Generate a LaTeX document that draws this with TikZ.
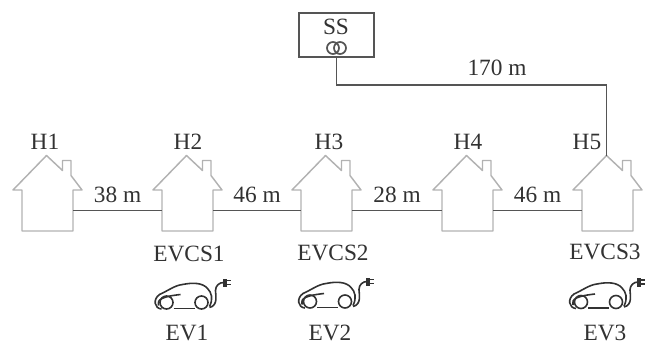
\documentclass[tikz,border=0pt]{standalone}
\usepackage{fontspec}
\setmainfont{Liberation Serif}
\usepackage{xcolor}
\definecolor{wiregray} {RGB}{ 85, 85, 85}
\definecolor{housegray}{RGB}{178,178,178}
\definecolor{textgray} {RGB}{ 50, 50, 50}
\tikzset{
  wire/.style      = {wiregray, line width=1.3pt},
  label text/.style= {textgray, inner sep=0pt, font=\fontsize{17.5}{20}\selectfont},
  ss box/.style    = {draw=wiregray, line width=1.6pt, minimum width=56pt, minimum height=33pt, inner sep=0pt},
  house wall/.style= {minimum width=38pt, minimum height=31pt, inner sep=0pt},
  car line/.style  = {textgray, line width=1.2pt, line join=round},
  house/.pic = {
    \node[house wall] (-wall) at (0,0) {};
    \coordinate (-apex) at (-1,-55);
    \draw[housegray, line width=1.1pt, line join=round]
      (-25.5,-20.5) -- (-25.5,20.5) -- (25.5,20.5) -- (25.5,-20.5) -- (34.5,-20.5)
      -- (23.5,-35) -- (23.5,-50) -- (15,-50) -- (15,-40) -- (-1,-55) -- (-34.5,-20.5) -- cycle;
  },
  ev car/.pic = {
    \draw[car line]
      (-5,6.5) .. controls (-12,6) and (-14,-3) .. (-7,-8)
      .. controls (2,-12) and (8,-17) .. (16,-18)
      .. controls (26,-20) and (36,-20) .. (41,-14)
      .. controls (45,-10) and (47,-4) .. (43,4);
    \draw[car line] (-8,3) .. controls (-10,-3) and (-4,-6) .. (14,-8);
    \draw[car line] (0,0) circle (6.5);
    \draw[car line] (35,0) circle (6.5);
    \draw[car line] (7,6) -- (28,6);
    % cable and plug
    \draw[car line]
      (43,5) .. controls (52,3) and (49,-8) .. (49,-12) .. controls (49,-17) and (53,-20) .. (57,-20);
    \fill[textgray] (56,-24) rectangle (60,-15.5);
    \draw[textgray, line width=1pt] (60,-22) -- (64,-22) (60,-18) -- (64,-18);
  },
}
\begin{document}
\begin{tikzpicture}[x=0.75pt, y=-0.75pt]
  \useasboundingbox (0,0) rectangle (651,343);

  % houses
  \pic (h1) at (47.5,210.5)  {house};
  \pic (h2) at (187.5,210.5) {house};
  \pic (h3) at (326.5,210.5) {house};
  \pic (h4) at (467.5,210.5) {house};
  \pic (h5) at (607.5,210.5) {house};

  % house labels
  \node[label text] (lh1) at (45,142)  {H1};
  \node[label text] (lh2) at (188,142) {H2};
  \node[label text] (lh3) at (329,142) {H3};
  \node[label text] (lh4) at (468,142) {H4};
  \node[label text] (lh5) at (587,142) {H5};

  % substation
  \node[ss box] (ss) at (336.5,35) {};
  \node[label text] (ssname) at (336,27) {SS};
  \draw[wire] (333,48) circle (6) (340,48) circle (6);

  % feeder
  \draw[wire] (h1-wall.east) -- node[label text, above=5pt] (d12) {38 m} (h2-wall.west);
  \draw[wire] (h2-wall.east) -- node[label text, above=5pt] (d23) {46 m} (h3-wall.west);
  \draw[wire] (h3-wall.east) -- node[label text, above=5pt] (d34) {28 m} (h4-wall.west);
  \draw[wire] (h4-wall.east) -- node[label text, above=5pt] (d45) {46 m} (h5-wall.west);
  \coordinate (bend) at (606.5,85);
  \draw[wire] (ss.south) |- (bend) -- (h5-apex);
  \node[label text] (d5s) at (497,68) {170 m};

  % charging stations
  \node[label text] (cs1) at (189,254) {EVCS1};
  \node[label text] (cs2) at (333,252.5) {EVCS2};
  \node[label text] (cs3) at (605,252) {EVCS3};

  % cars
  \pic at (166.5,302.5) {ev car};
  \pic at (310,301.5)   {ev car};
  \pic at (581,302)     {ev car};
  \node[label text] (ev1) at (187,332.5) {EV1};
  \node[label text] (ev2) at (330,332.5) {EV2};
  \node[label text] (ev3) at (605,332.5) {EV3};
\end{tikzpicture}
\end{document}
